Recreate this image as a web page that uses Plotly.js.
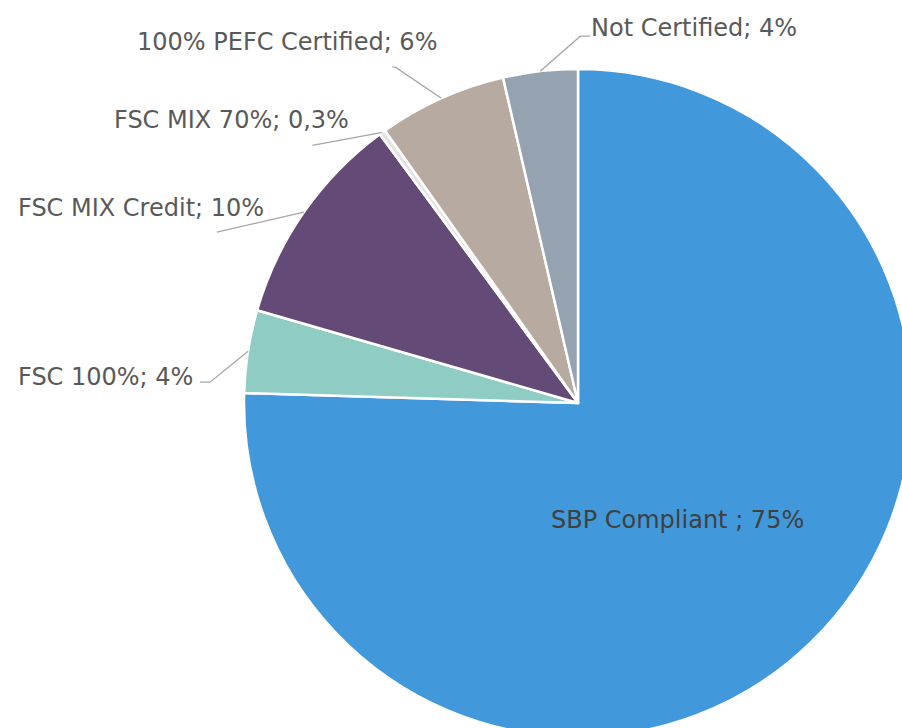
<!DOCTYPE html>
<html>
<head>
<meta charset="utf-8">
<script src="https://cdn.plot.ly/plotly-3.0.1.min.js"></script>
<style>
html,body{margin:0;padding:0;width:902px;height:728px;overflow:hidden;background:#fff;}
#chart{position:absolute;left:0;top:0;}
</style>
</head>
<body>
<div id="chart"></div>
<script>
// ---- data ----
const categories = ['SBP Compliant ', 'FSC 100%', 'FSC MIX Credit', 'FSC MIX 70%', '100% PEFC Certified', 'Not Certified'];
const shares = [75.4, 4.0, 10.4, 0.3, 6.2, 3.6];
const shareLabels = ['75%', '4%', '10%', '0,3%', '6%', '4%'];

// ---- style ----
const colors = ['#4198DA', '#8FCCC4', '#634A77', '#E3E3E3', '#B7AAA1', '#95A2AF'];
const R = 334, CX = 578, CY = 403;           // pie geometry (pixels in page)
const ML = CX - R, MT = CY - R, PW = 2 * R, PH = 2 * R;
const W = ML + PW + 10, H = MT + PH + 10;
const FONT = 'DejaVu Sans', FSIZE = 24;

// per-label leader/text styling (pixel offsets from slice edge point)
const labelStyle = [
  {inside: true, frac: 0.46, tx: -8, ty: 7},
  {elbow: [-38, 31], tail: -10, tx: -53, ty: 26, xanchor: 'right'},
  {elbow: [-87, 20], tail: 0, tx: -163, ty: -4, xanchor: 'center'},
  {elbow: [-70, 13], tail: 0, tx: -151, ty: -12, xanchor: 'center'},
  {elbow: [-46, -31], tail: -3, tx: -154, ty: -56, xanchor: 'center'},
  {elbow: [40, -35], tail: 10, tx: 49, ty: -43, xanchor: 'left'}
];

function toPaper(px, py) { return [(px - ML) / PW, 1 - (py - MT) / PH]; }

const total = shares.reduce((a, b) => a + b, 0);
let cum = 0;
const annotations = [];
const shapes = [];
shares.forEach((v, i) => {
  const mid = 2 * Math.PI * (cum + v / 2) / total;
  cum += v;
  const st = labelStyle[i];
  const text = categories[i] + '; ' + shareLabels[i];
  if (st.inside) {
    const px = CX + st.frac * R * Math.sin(mid) + st.tx;
    const py = CY - st.frac * R * Math.cos(mid) + st.ty;
    const p = toPaper(px, py);
    annotations.push({xref: 'paper', yref: 'paper', x: p[0], y: p[1], text: text, showarrow: false,
      xanchor: 'center', yanchor: 'middle', font: {family: FONT, size: FSIZE, color: '#404040'}});
    return;
  }
  const sx = CX + R * Math.sin(mid), sy = CY - R * Math.cos(mid);
  const ex = sx + st.elbow[0], ey = sy + st.elbow[1];
  const fx = ex + st.tail;
  const a = toPaper(sx, sy), b = toPaper(ex, ey), c = toPaper(fx, ey);
  shapes.push({type: 'path', xref: 'paper', yref: 'paper',
    path: 'M' + a[0] + ',' + a[1] + ' L' + b[0] + ',' + b[1] + ' L' + c[0] + ',' + c[1],
    line: {color: '#A6A6A6', width: 1.3}});
  const t = toPaper(sx + st.tx, sy + st.ty);
  annotations.push({xref: 'paper', yref: 'paper', x: t[0], y: t[1], text: text, showarrow: false,
    xanchor: st.xanchor, yanchor: 'middle', font: {family: FONT, size: FSIZE, color: '#595959'}});
});

const trace = {
  type: 'pie',
  labels: categories,
  values: shares,
  sort: false,
  direction: 'clockwise',
  rotation: 0,
  textinfo: 'none',
  hoverinfo: 'label+percent',
  marker: {colors: colors, line: {color: '#FFFFFF', width: 2.5}},
  domain: {x: [0, 1], y: [0, 1]}
};

const layout = {
  width: W, height: H,
  margin: {l: ML, r: 10, t: MT, b: 10, pad: 0},
  showlegend: false,
  paper_bgcolor: '#FFFFFF',
  annotations: annotations,
  shapes: shapes
};

Plotly.newPlot('chart', [trace], layout, {displayModeBar: false, staticPlot: true});
</script>
</body>
</html>
